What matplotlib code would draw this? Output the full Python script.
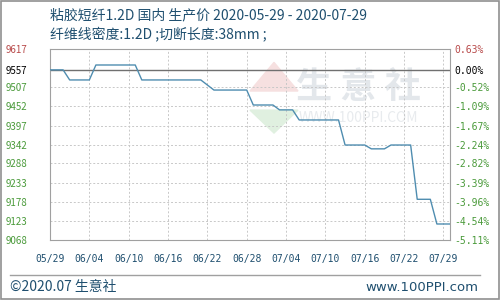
import numpy as np
import matplotlib.pyplot as plt
from matplotlib.lines import Line2D

plt.rcParams['font.family'] = ['Noto Sans CJK SC', 'DejaVu Sans']

# 价格走势 (距 05/29 的天数, 价格)
days = [0, 2, 3, 6, 7, 13, 14, 23, 25, 30, 31, 34, 35, 37, 38, 44, 45,
        48, 49, 51, 52, 55, 56, 58, 59, 61]
prices = [9557, 9557, 9528, 9528, 9571, 9571, 9528, 9528, 9499, 9499,
          9456, 9456, 9442, 9442, 9413, 9413, 9341, 9341, 9330, 9330,
          9341, 9341, 9185, 9185, 9114, 9114]

base = 9557
y_ticks = [9617, 9557, 9507, 9452, 9397, 9342, 9288, 9233, 9178, 9123, 9068]
pct_labels = ["0.63%", "0.00%", "-0.52%", "-1.09%", "-1.67%", "-2.24%",
              "-2.82%", "-3.39%", "-3.96%", "-4.54%", "-5.11%"]
x_ticks = [0, 6, 12, 18, 24, 30, 36, 42, 48, 54, 60]
x_labels = ["05/29", "06/04", "06/10", "06/16", "06/22", "06/28",
            "07/04", "07/10", "07/16", "07/22", "07/29"]

title1 = "粘胶短纤1.2D 国内 生产价 2020-05-29 - 2020-07-29"
title2 = "纤维线密度:1.2D ;切断长度:38mm ;"

RED = "#b84a4a"
GREEN = "#4a9a3a"
BLUE_TXT = "#1f4f6f"
LINE = "#4f8db0"

fig = plt.figure(figsize=(5, 3), dpi=100)
ax = fig.add_axes([0.1, 0.2, 0.8, 0.6367])

# 水印
ax.text(0.77, 0.8, "生 意 社", transform=ax.transAxes, ha="center", va="center",
        fontsize=26, color="#e3e7eb", zorder=0, fontweight="bold")
ax.text(0.77, 0.64, "WWW.100PPI.COM", transform=ax.transAxes, ha="center",
        va="center", fontsize=10, color="#e8ebee", zorder=0)
ax.fill([0.5, 0.56, 0.62], [0.78, 0.93, 0.78], transform=ax.transAxes,
        color="#f6e0e0", zorder=0)
ax.fill([0.5, 0.56, 0.62], [0.68, 0.56, 0.68], transform=ax.transAxes,
        color="#e0f0e0", zorder=0)

ax.plot(days, prices, color=LINE, linewidth=1.0, zorder=3)
ax.axhline(base, color="#707070", linewidth=1.0, zorder=2)

ax.set_xlim(0, 61)
ax.set_ylim(9068, 9617)
ax.set_yticks(y_ticks)
ax.set_yticklabels([str(v) for v in y_ticks], fontsize=7, ha="left")
ax.set_xticks(x_ticks)
ax.set_xticklabels(x_labels, fontsize=7, family="DejaVu Sans Mono", color=BLUE_TXT)
ax.tick_params(axis="y", length=0, pad=32)
ax.tick_params(axis="x", length=0, pad=10)
ax.grid(True, color="#c8c8c8", linestyle=(0, (2, 2)), linewidth=0.7)
for s in ax.spines.values():
    s.set_color("#a0a0a0")

for i, lab in enumerate(ax.get_yticklabels()):
    lab.set_color(RED if i == 0 else ("black" if i == 1 else GREEN))

ax2 = ax.twinx()
ax2.set_ylim(ax.get_ylim())
ax2.set_yticks(y_ticks)
ax2.set_yticklabels(pct_labels, fontsize=7, family="DejaVu Sans Mono")
ax2.tick_params(axis="y", length=0, pad=3)
for i, lab in enumerate(ax2.get_yticklabels()):
    lab.set_color(RED if i == 0 else ("black" if i == 1 else GREEN))
for s in ax2.spines.values():
    s.set_visible(False)

fig.text(0.1, 0.95, title1, fontsize=10, color=BLUE_TXT, va="center")
fig.text(0.1, 0.888, title2, fontsize=10, color=BLUE_TXT, va="center")

fig.add_artist(Line2D([0.02, 0.96], [0.083, 0.083], color="#a0a0a0", linewidth=1))
fig.text(0.02, 0.042, "©2020.07 生意社", fontsize=10, color=BLUE_TXT, va="center")
fig.text(0.956, 0.042, "www.100PPI.com", fontsize=9.5, color=BLUE_TXT, va="center",
         ha="right", family="DejaVu Sans")
fig.add_artist(plt.Rectangle((0.001, 0.002), 0.997, 0.995, fill=False,
                             edgecolor="#909090", linewidth=1.2))

fig.savefig("out.png", dpi=100)
